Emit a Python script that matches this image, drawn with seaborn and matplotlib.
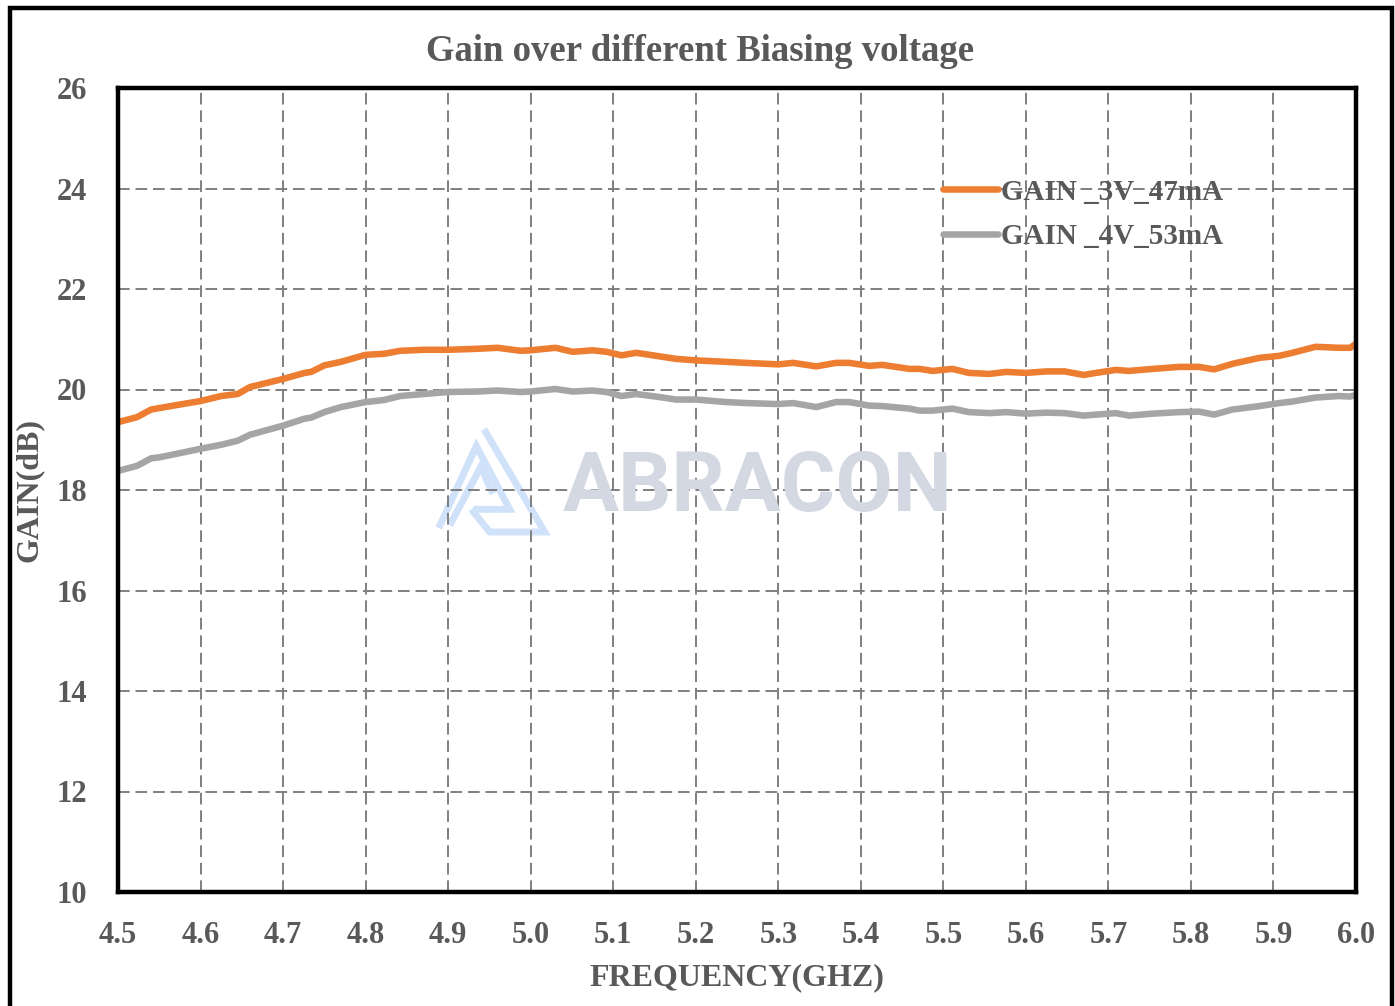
import matplotlib
matplotlib.use("Agg")
import matplotlib.pyplot as plt
import seaborn as sns
import pandas as pd
from matplotlib.lines import Line2D
from matplotlib.patches import Rectangle

freq = [4.500, 4.523, 4.540, 4.550, 4.571, 4.600, 4.625, 4.645, 4.660, 4.700,
        4.726, 4.734, 4.750, 4.770, 4.800, 4.822, 4.842, 4.870, 4.900, 4.935,
        4.960, 4.988, 5.000, 5.030, 5.051, 5.075, 5.092, 5.110, 5.128, 5.156,
        5.176, 5.200, 5.237, 5.261, 5.300, 5.318, 5.346, 5.370, 5.386, 5.410,
        5.426, 5.459, 5.471, 5.487, 5.511, 5.531, 5.556, 5.576, 5.600, 5.625,
        5.647, 5.670, 5.685, 5.709, 5.725, 5.754, 5.786, 5.810, 5.828, 5.850,
        5.883, 5.907, 5.923, 5.951, 5.979, 5.993, 6.000]

gain_3v_47ma = [19.35, 19.45, 19.60, 19.63, 19.69, 19.77, 19.87, 19.91, 20.05, 20.21,
                20.33, 20.35, 20.48, 20.55, 20.69, 20.71, 20.77, 20.79, 20.79, 20.81,
                20.83, 20.77, 20.78, 20.83, 20.75, 20.78, 20.75, 20.68, 20.73, 20.66,
                20.61, 20.58, 20.55, 20.53, 20.50, 20.53, 20.46, 20.53, 20.53, 20.47,
                20.49, 20.41, 20.41, 20.37, 20.41, 20.33, 20.31, 20.35, 20.33, 20.36,
                20.36, 20.29, 20.33, 20.39, 20.37, 20.41, 20.45, 20.45, 20.40, 20.51,
                20.63, 20.67, 20.73, 20.85, 20.83, 20.83, 20.91]

gain_4v_53ma = [18.38, 18.48, 18.63, 18.65, 18.72, 18.82, 18.90, 18.98, 19.10, 19.28,
                19.42, 19.44, 19.55, 19.65, 19.75, 19.79, 19.87, 19.91, 19.95, 19.96,
                19.98, 19.95, 19.96, 20.01, 19.96, 19.98, 19.95, 19.87, 19.91, 19.85,
                19.80, 19.80, 19.75, 19.73, 19.71, 19.73, 19.65, 19.75, 19.75, 19.68,
                19.67, 19.62, 19.58, 19.58, 19.62, 19.55, 19.53, 19.55, 19.52, 19.54,
                19.53, 19.48, 19.50, 19.53, 19.48, 19.52, 19.55, 19.56, 19.50, 19.60,
                19.67, 19.73, 19.76, 19.84, 19.87, 19.86, 19.89]

series_names = ["GAIN _3V_47mA", "GAIN _4V_53mA"]
series_colors = ["#ED7D31", "#A5A5A5"]
x_ticks = [4.5, 4.6, 4.7, 4.8, 4.9, 5.0, 5.1, 5.2, 5.3, 5.4, 5.5, 5.6, 5.7, 5.8, 5.9, 6.0]
y_ticks = [10, 12, 14, 16, 18, 20, 22, 24, 26]

sns.set_theme(style="white")
plt.rcParams["font.family"] = ["Liberation Serif", "DejaVu Serif"]
plt.rcParams["font.weight"] = "bold"

txt = "#595959"

df = pd.DataFrame({
    "freq": freq * 2,
    "gain": gain_3v_47ma + gain_4v_53ma,
    "series": [series_names[0]] * len(freq) + [series_names[1]] * len(freq),
})

fig = plt.figure(figsize=(13.95, 10.06), dpi=100)
ax = fig.add_axes([118 / 1395, 1 - 892 / 1006, (1356 - 118) / 1395, (892 - 88) / 1006])
ax.patch.set_visible(False)

sns.lineplot(data=df, x="freq", y="gain", hue="series", palette=series_colors,
             hue_order=series_names, linewidth=4.7, ax=ax, zorder=5,
             legend=False)

ax.set_xlim(4.5, 6.0)
ax.set_ylim(10, 26)
ax.set_xticks(x_ticks)
ax.set_xticklabels([f"{v:.1f}" for v in x_ticks])
ax.set_yticks(y_ticks)
ax.set_yticklabels([str(v) for v in y_ticks])
ax.grid(True, color="#7f7f7f", linestyle=(0, (6, 3)), linewidth=1.4, zorder=2)
ax.set_axisbelow(True)
ax.tick_params(axis="both", length=0, labelsize=22, labelcolor=txt)
ax.tick_params(axis="x", pad=21)
ax.tick_params(axis="y", pad=22)
for lab in ax.get_xticklabels() + ax.get_yticklabels():
    lab.set_fontweight("bold")
for s in ax.spines.values():
    s.set_color("black")
    s.set_linewidth(3.2)
    s.set_zorder(6)

ax.set_xlabel("FREQUENCY(GHZ)", fontsize=23, fontweight="bold", color=txt)
ax.set_ylabel("GAIN(dB)", fontsize=23, fontweight="bold", color=txt)
ax.xaxis.set_label_coords(0.5, -0.088)
ax.yaxis.set_label_coords(-0.060, 0.5)

fig.text(0.502, 0.949, "Gain over different Biasing voltage", ha="center", va="center",
         fontsize=26.5, fontweight="bold", color=txt)

# legend
handles = [Line2D([0], [0], color=c, lw=4.7, solid_capstyle="round") for c in series_colors]
ax.legend(handles, series_names, loc="upper left", bbox_to_anchor=(0.645, 0.92),
          frameon=False, handlelength=1.9, handletextpad=0.1,
          labelspacing=0.6, labelcolor=txt, prop={"weight": "bold", "size": 21})

# watermark
fig.text(758 / 1395, 1 - 488 / 1006, "ABRACON", ha="center", va="center",
         fontsize=60, fontweight="bold", family="Roboto", color="#D3D8E2", zorder=0)
logo_c = "#CFE2FA"
def fl(pts):
    xs = [p[0] / 1395 for p in pts]
    ys = [1 - p[1] / 1006 for p in pts]
    fig.add_artist(Line2D(xs, ys, color=logo_c, lw=5.0, zorder=0,
                          solid_joinstyle="miter", solid_capstyle="butt"))
fl([(438.7, 528), (476.3, 446), (509.7, 509.3), (473, 509.3)])
fl([(449.7, 525.3), (480.7, 467), (493, 493.7)])
fl([(471.3, 509.3), (489.7, 532), (544.7, 532), (484, 429.3)])

# outer border
fig.add_artist(Rectangle((10 / 1395, -0.02), (1392 - 10) / 1395, (1006 - 8) / 1006 + 0.02,
                         transform=fig.transFigure, fill=False, edgecolor="black", lw=3.2, zorder=10))

fig.savefig("out.png", dpi=100)
